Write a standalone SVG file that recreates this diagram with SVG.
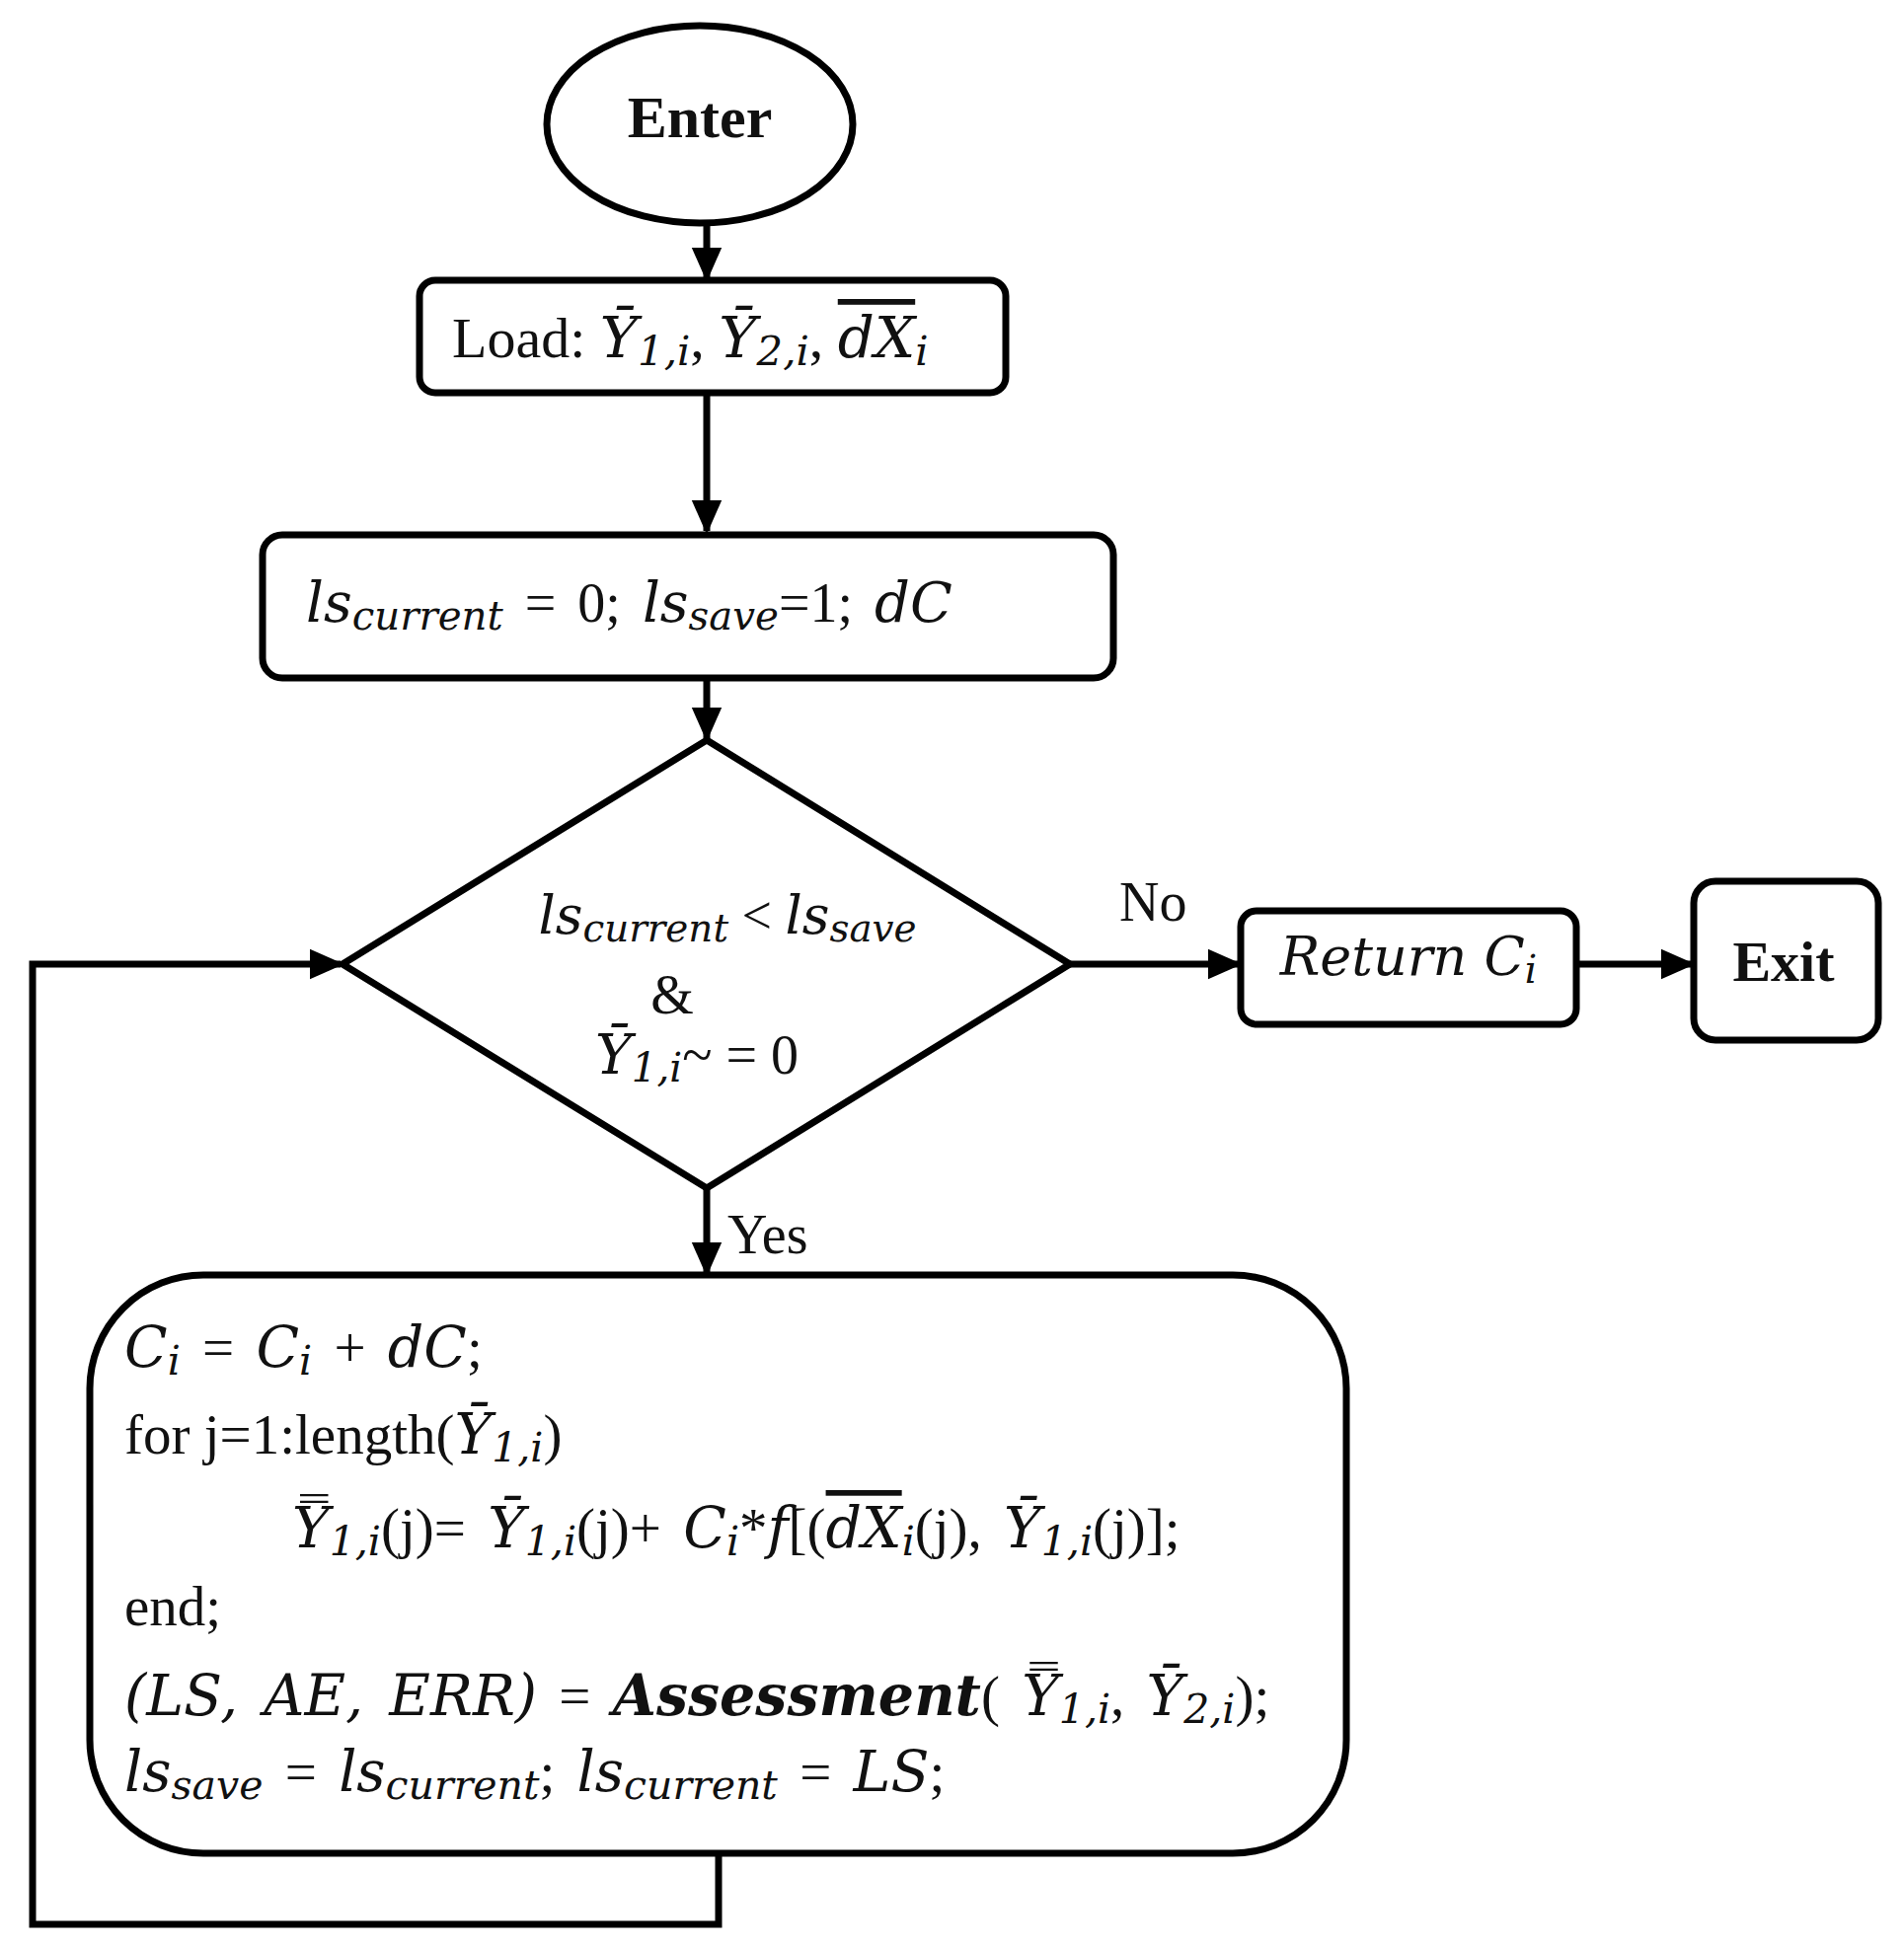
<svg xmlns="http://www.w3.org/2000/svg" width="1929" height="1974" viewBox="0 0 1929 1974">
<style>
.s{fill:#fff;stroke:#000;stroke-width:7}
.c{fill:none;stroke:#000;stroke-width:7}
text{font-family:"Liberation Serif","DejaVu Serif",serif;fill:#111}
.i{font-style:italic;font-family:"DejaVu Serif","Liberation Serif",serif}
.b{font-weight:bold}
.sub{font-size:72%;font-style:italic;font-family:"DejaVu Serif","Liberation Serif",serif}
.ol{text-decoration:overline}
.w{word-spacing:8px}
</style>
<defs>
<marker id="a" markerWidth="5" markerHeight="5" refX="4.5" refY="2.5" orient="auto" markerUnits="strokeWidth"><path d="M0,0.3 L5,2.5 L0,4.7 Z" fill="#000"/></marker>
</defs>
<rect width="1929" height="1974" fill="#fff"/>
<g id="connectors">
<line class="c" x1="716" y1="228" x2="716" y2="282" marker-end="url(#a)"/>
<line class="c" x1="716" y1="398" x2="716" y2="538" marker-end="url(#a)"/>
<line class="c" x1="716" y1="687" x2="716" y2="748" marker-end="url(#a)"/>
<line class="c" x1="1084" y1="977" x2="1255" y2="977" marker-end="url(#a)"/>
<line class="c" x1="1597" y1="977" x2="1714" y2="977" marker-end="url(#a)"/>
<line class="c" x1="716" y1="1204" x2="716" y2="1290" marker-end="url(#a)"/>
<polyline class="c" points="728,1878 728,1950 33,1950 33,977 345,977" marker-end="url(#a)"/>
<text x="1134" y="933" font-size="56">No</text>
<text x="737" y="1270" font-size="56">Yes</text>
</g>
<g id="enter">
<ellipse class="s" cx="709" cy="126" rx="155" ry="100"/>
<text x="709" y="139" font-size="60" class="b" text-anchor="middle">Enter</text>
</g>
<g id="load">
<rect class="s" x="425" y="284" width="594" height="114" rx="16"/>
<text x="458" y="362" font-size="58">Load: <tspan class="i">Ȳ</tspan><tspan class="sub" baseline-shift="-0.2em">1,i</tspan>, <tspan class="i">Ȳ</tspan><tspan class="sub" baseline-shift="-0.2em">2,i</tspan>, <tspan class="i ol">dX</tspan><tspan class="sub" baseline-shift="-0.2em">i</tspan></text>
</g>
<g id="init">
<rect class="s" x="266" y="542" width="862" height="145" rx="20"/>
<text x="310" y="630" font-size="56" class="w"><tspan class="i">ls</tspan><tspan class="sub" baseline-shift="-0.2em">current</tspan> = 0;  <tspan class="i">ls</tspan><tspan class="sub" baseline-shift="-0.2em">save</tspan>=1; <tspan class="i">dC</tspan></text>
</g>
<g id="decision">
<polygon class="s" points="716,750 1084,977 716,1204 347,977"/>
<text x="737" y="946" font-size="54" text-anchor="middle"><tspan class="i">ls</tspan><tspan class="sub" baseline-shift="-0.2em">current</tspan> &lt; <tspan class="i">ls</tspan><tspan class="sub" baseline-shift="-0.2em">save</tspan></text>
<text x="681" y="1027" font-size="56" text-anchor="middle">&amp;</text>
<text x="706" y="1088" font-size="56" text-anchor="middle"><tspan class="i">Ȳ</tspan><tspan class="sub" baseline-shift="-0.2em">1,i</tspan>~ = 0</text>
</g>
<g id="return">
<rect class="s" x="1257" y="923" width="340" height="115" rx="16"/>
<text x="1427" y="988" font-size="54" class="i" text-anchor="middle">Return C<tspan class="sub" baseline-shift="-0.2em">i</tspan></text>
</g>
<g id="exit">
<rect class="s" x="1716" y="893" width="187" height="161" rx="22"/>
<text x="1807" y="994" font-size="58" class="b" text-anchor="middle">Exit</text>
</g>
<g id="loop">
<rect class="s" x="91" y="1292" width="1273" height="586" rx="115"/>
<text x="126" y="1385" font-size="57" class="w"><tspan class="i">C</tspan><tspan class="sub" baseline-shift="-0.2em">i</tspan> = <tspan class="i">C</tspan><tspan class="sub" baseline-shift="-0.2em">i</tspan> + <tspan class="i">dC</tspan>;</text>
<text x="126" y="1473" font-size="57">for j=1:length(<tspan class="i">Ȳ</tspan><tspan class="sub" baseline-shift="-0.2em">1,i</tspan>)</text>
<text x="296" y="1568" font-size="57" class="w"><tspan class="i">Y̿</tspan><tspan class="sub" baseline-shift="-0.2em">1,i</tspan>(j)= <tspan class="i">Ȳ</tspan><tspan class="sub" baseline-shift="-0.2em">1,i</tspan>(j)+ <tspan class="i">C</tspan><tspan class="sub" baseline-shift="-0.2em">i</tspan>*<tspan class="i">f</tspan>[(<tspan class="i ol">dX</tspan><tspan class="sub" baseline-shift="-0.2em">i</tspan>(j), <tspan class="i">Ȳ</tspan><tspan class="sub" baseline-shift="-0.2em">1,i</tspan>(j)];</text>
<text x="126" y="1647" font-size="57">end;</text>
<text x="126" y="1738" font-size="57" class="w"><tspan class="i">(LS, AE, ERR)</tspan>   = <tspan class="i b">Assessment</tspan>( <tspan class="i">Y̿</tspan><tspan class="sub" baseline-shift="-0.2em">1,i</tspan>, <tspan class="i">Ȳ</tspan><tspan class="sub" baseline-shift="-0.2em">2,i</tspan>);</text>
<text x="126" y="1815" font-size="57" class="w"><tspan class="i">ls</tspan><tspan class="sub" baseline-shift="-0.2em">save</tspan> = <tspan class="i">ls</tspan><tspan class="sub" baseline-shift="-0.2em">current</tspan>; <tspan class="i">ls</tspan><tspan class="sub" baseline-shift="-0.2em">current</tspan> =  <tspan class="i">LS</tspan>;</text>
</g>
</svg>
